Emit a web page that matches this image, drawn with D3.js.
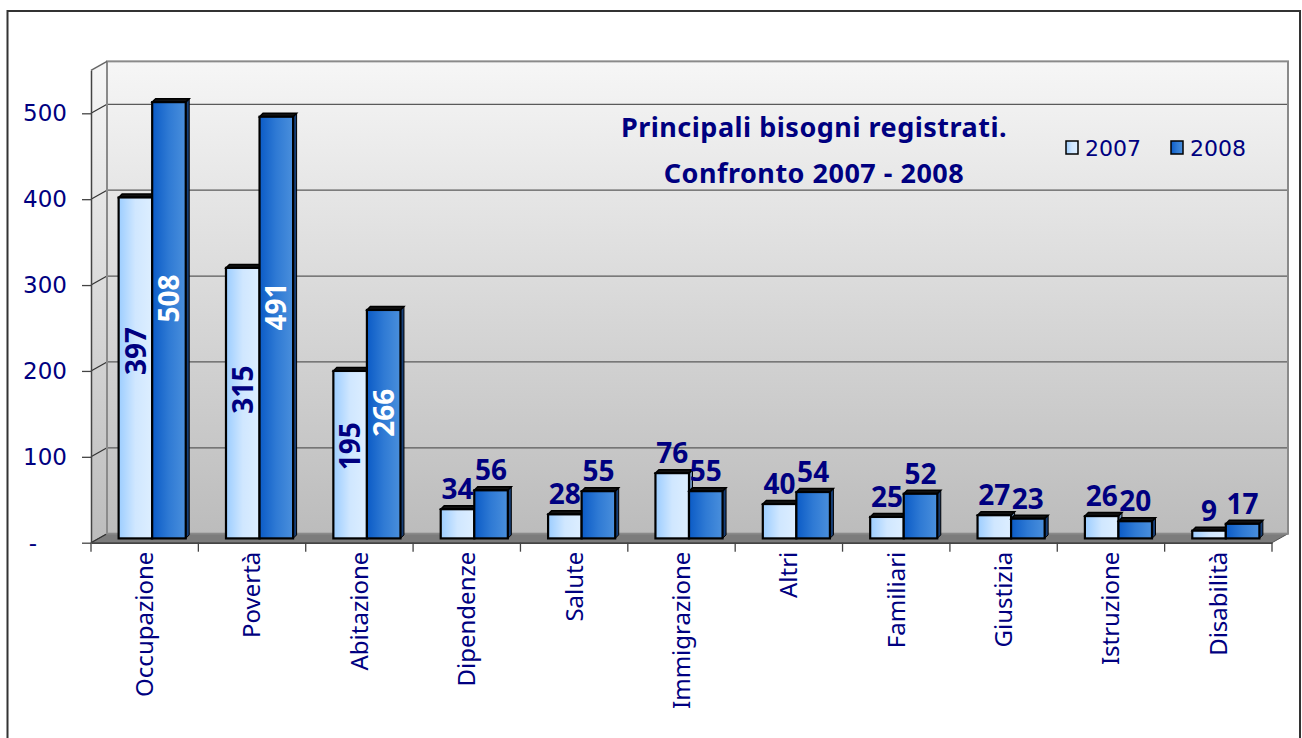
<!DOCTYPE html>
<html>
<head>
<meta charset="utf-8">
<script src="https://cdn.jsdelivr.net/npm/d3@7"></script>
<style>
  body { margin: 0; background: #fff; }
  svg { display: block; }
</style>
</head>
<body>
<script>
const categories = ["Occupazione", "Povertà", "Abitazione", "Dipendenze", "Salute",
  "Immigrazione", "Altri", "Familiari", "Giustizia", "Istruzione", "Disabilità"];
const values2007 = [397, 315, 195, 34, 28, 76, 40, 25, 27, 26, 9];
const values2008 = [508, 491, 266, 56, 55, 55, 54, 52, 23, 20, 17];
const years = ["2007", "2008"];
const yTicks = [0, 100, 200, 300, 400, 500];
const titleLines = ["Principali bisogni registrati.", "Confronto 2007 - 2008"];

const width = 1302, height = 738;
const navy = "#000080";

const svg = d3.select("body").append("svg")
  .attr("width", width)
  .attr("height", height);

// plot box (front plane) and 3d offsets
const left = 91, right = 1272, base = 542.7;
const depth = { x: 16, y: -9 };     // back wall
const mid = { x: 7.5, y: -4.3 };    // where bars stand
const bar3d = 3.5;

const x = d3.scaleBand()
  .domain(categories)
  .range([left, right]);

const xSub = d3.scaleBand()
  .domain(years)
  .range([0, x.bandwidth()])
  .paddingOuter(0.6);

const y = d3.scaleLinear()
  .domain([0, 550])
  .range([base, base - 550 * 0.8588]);

const defs = svg.append("defs");

const wallGrad = defs.append("linearGradient")
  .attr("id", "wallGrad")
  .attr("x1", 0).attr("y1", 0).attr("x2", 0).attr("y2", 1);
wallGrad.append("stop").attr("offset", 0).attr("stop-color", "#f6f6f6");
wallGrad.append("stop").attr("offset", 1).attr("stop-color", "#bcbcbc");

const barColors = {
  "2007": ["#9ccdff", "#d0e7ff", "#ddeeff"],
  "2008": ["#0b5bc6", "#2f7ad4", "#4a8fdc"]
};
const sideColors = { "2007": "#6d8fb8", "2008": "#163f78" };

years.forEach(yr => {
  const g = defs.append("linearGradient")
    .attr("id", "grad" + yr)
    .attr("x1", 0).attr("y1", 0).attr("x2", 1).attr("y2", 0);
  barColors[yr].forEach((c, i) => {
    g.append("stop").attr("offset", i / 2).attr("stop-color", c);
  });
});

// back wall
const backTop = y(550) + depth.y;
const backBottom = base + depth.y;
svg.append("rect")
  .attr("x", left + depth.x)
  .attr("y", backTop)
  .attr("width", right - left)
  .attr("height", backBottom - backTop)
  .attr("fill", "url(#wallGrad)");

// left wall
svg.append("path")
  .attr("d", `M${left},${base} L${left},${y(550)} L${left + depth.x},${backTop} L${left + depth.x},${backBottom} Z`)
  .attr("fill", "url(#wallGrad)");

// floor
svg.append("path")
  .attr("d", `M${left},${base} L${left + depth.x},${backBottom} L${right + depth.x},${backBottom} L${right},${base} Z`)
  .attr("fill", "#7c7c7c")
  .attr("stroke", "#555")
  .attr("stroke-width", 1);

// gridlines on back wall + diagonals on left wall
const grid = svg.append("g");
grid.selectAll(".grid")
  .data(yTicks.filter(d => d > 0))
  .enter()
  .append("line")
  .attr("x1", left + depth.x)
  .attr("x2", right + depth.x)
  .attr("y1", d => y(d) + depth.y)
  .attr("y2", d => y(d) + depth.y)
  .attr("stroke", "#5a5a5a")
  .attr("stroke-width", 1.3);

grid.selectAll(".diag")
  .data(yTicks)
  .enter()
  .append("line")
  .attr("x1", left)
  .attr("x2", left + depth.x)
  .attr("y1", d => y(d))
  .attr("y2", d => y(d) + depth.y)
  .attr("stroke", "#333")
  .attr("stroke-width", 1.2);

// wall borders
svg.append("rect")
  .attr("x", left + depth.x)
  .attr("y", backTop)
  .attr("width", right - left)
  .attr("height", backBottom - backTop)
  .attr("fill", "none")
  .attr("stroke", "#8a8a8a")
  .attr("stroke-width", 2);

svg.append("path")
  .attr("d", `M${left},${y(550)} L${left + depth.x},${backTop}`)
  .attr("stroke", "#666")
  .attr("stroke-width", 1.5);

// bars
const barData = categories.flatMap((c, i) => years.map(yr => ({
  cat: c,
  year: yr,
  value: yr === "2007" ? values2007[i] : values2008[i]
})));

const bx = d => x(d.cat) + xSub(d.year) + mid.x;
const bw = xSub.bandwidth();
const by0 = base + mid.y;
const by = d => y(d.value) + mid.y;

const bars = svg.selectAll(".bar")
  .data(barData)
  .enter()
  .append("g")
  .attr("class", "bar");

bars.append("path")
  .attr("d", d => `M${bx(d) + bw},${by(d)} L${bx(d) + bw + bar3d},${by(d) - bar3d} L${bx(d) + bw + bar3d},${by0 - bar3d} L${bx(d) + bw},${by0} Z`)
  .attr("fill", d => sideColors[d.year])
  .attr("stroke", "#000")
  .attr("stroke-width", 1);

bars.append("path")
  .attr("d", d => `M${bx(d)},${by(d)} L${bx(d) + bar3d},${by(d) - bar3d} L${bx(d) + bw + bar3d},${by(d) - bar3d} L${bx(d) + bw},${by(d)} Z`)
  .attr("fill", "#111")
  .attr("stroke", "#000")
  .attr("stroke-width", 1.5);

bars.append("rect")
  .attr("x", bx)
  .attr("y", by)
  .attr("width", bw)
  .attr("height", d => by0 - by(d))
  .attr("fill", d => `url(#grad${d.year})`)
  .attr("stroke", "#000")
  .attr("stroke-width", 2.2);

// value labels
const labelFont = "'Comic Sans MS', 'Noto Sans', sans-serif";
const inside = d => d.value > 150;

svg.selectAll(".val-in")
  .data(barData.filter(inside))
  .enter()
  .append("text")
  .attr("transform", d => `translate(${bx(d) + bw / 2}, ${y(d.value * 0.55) + mid.y}) rotate(-90)`)
  .attr("text-anchor", "middle")
  .attr("dy", "0.36em")
  .attr("font-family", labelFont)
  .attr("font-weight", "bold")
  .attr("font-size", "28px")
  .attr("fill", d => d.year === "2007" ? navy : "#fff")
  .text(d => d.value);

svg.selectAll(".val-out")
  .data(barData.filter(d => !inside(d)))
  .enter()
  .append("text")
  .attr("x", d => bx(d) + bw / 2)
  .attr("y", d => by(d) - 10)
  .attr("text-anchor", "middle")
  .attr("font-family", labelFont)
  .attr("font-weight", "bold")
  .attr("font-size", "28px")
  .attr("fill", navy)
  .text(d => d.value);

// y axis
const yAxis = svg.append("g")
  .attr("transform", `translate(${left},0)`)
  .call(d3.axisLeft(y)
    .tickValues(yTicks)
    .tickSize(9)
    .tickSizeOuter(0)
    .tickPadding(15)
    .tickFormat(d => d === 0 ? "-" : d));

yAxis.select(".domain")
  .attr("stroke", "#444")
  .attr("stroke-width", 1.5);
yAxis.selectAll(".tick line")
  .attr("stroke", "#444")
  .attr("stroke-width", 1.3);
yAxis.selectAll(".tick text")
  .attr("font-family", "'DejaVu Sans', sans-serif")
  .attr("font-size", "23px")
  .attr("fill", navy)
  .attr("x", d => d === 0 ? -54 : -24);

// x axis
const xAxis = svg.append("g")
  .attr("transform", `translate(0,${base})`)
  .call(d3.axisBottom(x).tickSize(0).tickSizeOuter(0));

xAxis.select(".domain")
  .attr("stroke", "#444")
  .attr("stroke-width", 1.5);

xAxis.selectAll(".tick text")
  .attr("font-family", "'Comic Sans MS', 'Noto Sans', sans-serif")
  .attr("font-size", "24px")
  .attr("fill", navy)
  .attr("y", 0)
  .attr("x", -9)
  .attr("dy", "0.35em")
  .attr("transform", "rotate(-90)")
  .attr("text-anchor", "end");

xAxis.selectAll(".bound")
  .data(categories.map(c => x(c)).concat([right]))
  .enter()
  .append("line")
  .attr("x1", d => d)
  .attr("x2", d => d)
  .attr("y1", 0)
  .attr("y2", 9)
  .attr("stroke", "#444")
  .attr("stroke-width", 1.3);

// title
svg.selectAll(".title")
  .data(titleLines)
  .enter()
  .append("text")
  .attr("x", 814)
  .attr("y", (d, i) => 137 + i * 46)
  .attr("text-anchor", "middle")
  .attr("font-family", labelFont)
  .attr("font-weight", "bold")
  .attr("font-size", "27px")
  .attr("letter-spacing", "0.5px")
  .attr("fill", navy)
  .text(d => d);

// legend
const legend = svg.append("g")
  .attr("transform", "translate(1066, 141)");

legend.selectAll("g")
  .data(years)
  .enter()
  .append("g")
  .attr("transform", (d, i) => `translate(${i * 105}, 0)`)
  .each(function (d) {
    const g = d3.select(this);
    g.append("rect")
      .attr("width", 12)
      .attr("height", 13)
      .attr("fill", `url(#grad${d})`)
      .attr("stroke", "#000")
      .attr("stroke-width", 1.5);
    g.append("text")
      .attr("x", 19)
      .attr("y", 15)
      .attr("font-family", "'DejaVu Sans', sans-serif")
      .attr("font-size", "22px")
      .attr("fill", navy)
      .text(d);
  });

// outer frame
svg.append("rect")
  .attr("x", 7.5)
  .attr("y", 11)
  .attr("width", 1292.5)
  .attr("height", 800)
  .attr("fill", "none")
  .attr("stroke", "#333")
  .attr("stroke-width", 2);
</script>
</body>
</html>
